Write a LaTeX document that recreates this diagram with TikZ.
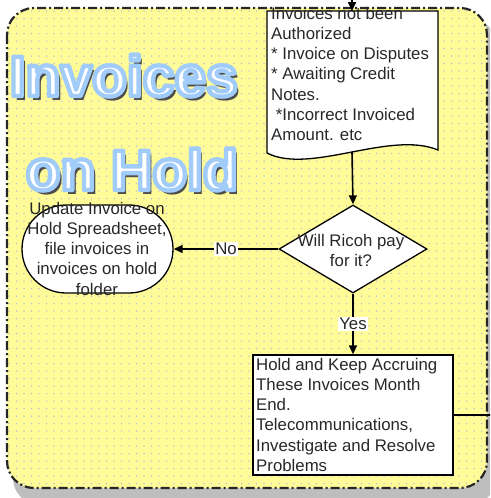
\documentclass[tikz,border=0pt]{standalone}
\usepackage{fontspec}
\setmainfont{Liberation Sans}
\usetikzlibrary{arrows.meta,shapes.geometric}
\definecolor{boxyellow}{RGB}{255,251,153}
\definecolor{dotcol}{RGB}{172,190,212}
\definecolor{shadowgray}{RGB}{190,190,190}
\definecolor{txtgray}{RGB}{40,40,40}
\newcommand\outlinedtext[1]{\special{pdf:literal direct 0.63 0.8 0.98 RG 4.4 w 1 j 2 Tr}#1\special{pdf:literal direct 0 Tr}}
\tikzset{
  shapeline/.style={draw=black, line width=1.3pt, fill=white},
  conn/.style={line width=1.6pt, -{Triangle[length=9pt,width=8pt]}},
  plainline/.style={line width=1.8pt},
  txt/.style={inner sep=0pt, text=txtgray, font=\fontsize{16.8}{20.3}\selectfont},
  lbl/.style={fill=white, inner sep=1pt, text=txtgray, font=\fontsize{16.8}{20.3}\selectfont},
  ttl/.style={inner sep=0pt, anchor=base east, text depth=0pt, font=\fontsize{57}{57}\selectfont\bfseries},
}
\begin{document}
\begin{tikzpicture}[x=1pt,y=-1pt]
\useasboundingbox (0,0) rectangle (490,498);
\begin{scope}
\clip (0,0) rectangle (490,498);
% shadow
\fill[shadowgray, rounded corners=27pt] (13,18) rectangle (496,505);
% yellow panel
\fill[boxyellow, rounded corners=27pt] (7,8) rectangle (487,488);
\begin{scope}
\clip[rounded corners=27pt] (7,8) rectangle (487,488);
\foreach \i in {0,...,64}{
  \foreach \j in {0,...,64}{
    \fill[dotcol] (9+7.5*\i,11+7.5*\j) circle (0.75pt);
  }
}
\end{scope}
\draw[black!85, line width=2.2pt, dash pattern=on 9pt off 3pt on 2pt off 3pt, rounded corners=27pt] (7,8) rectangle (487,488);

% title
\node[ttl, text=black!70] (t1s) at (241.5,100) {Invoices};
\node[ttl, text=black!70] (t2s) at (241.5,194) {on Hold};
\node[ttl, text=white] (t1) at (238,96) {\outlinedtext{Invoices}};
\node[ttl, text=white] (t2) at (238,190) {\outlinedtext{on Hold}};

% document shape
\draw[shapeline] (267,11) -- (438,11) -- (438,150) .. controls (390,130) and (310,175) .. (267,153) -- cycle;
\coordinate (doctop) at (352,11);
\coordinate (docbot) at (352,152);
\coordinate (inflow) at (352,-10);
\node[txt, anchor=north west, align=left] (doctxt) at (271,6.7) {Invoices not been\\Authorized\\* Invoice on Disputes\\* Awaiting Credit\\Notes.\\\ *Incorrect Invoiced\\Amount. etc};

% decision
\node[diamond, shapeline, minimum width=148pt, minimum height=88pt, inner sep=0pt] (dec) at (353,249) {};
\node[txt, anchor=north, align=center] (dectxt) at (351,233.7) {Will Ricoh pay\\for it?};

% terminal
\node[shapeline, rounded corners=44pt, minimum width=151pt, minimum height=88pt, inner sep=0pt] (upd) at (97.5,249) {};
\node[txt, anchor=north, align=center] (updtxt) at (97,201.7) {Update Invoice on\\Hold Spreadsheet,\\file invoices in\\invoices on hold\\folder};

% process
\node[shapeline, rectangle, minimum width=200pt, minimum height=120pt, inner sep=0pt] (hold) at (353,415) {};
\node[txt, anchor=north west, align=left] (holdtxt) at (256,357.7) {Hold and Keep Accruing\\These Invoices Month\\End.\\Telecommunications,\\Investigate and Resolve\\Problems};
\coordinate (outflow) at (500,415);

% connectors
\draw[conn] (inflow) -- (doctop);
\draw[conn] (docbot) -- (dec.north);
\draw[conn] (dec.west) -- node[lbl] (nolbl) {No} (upd.east);
\draw[conn] (dec.south) -- node[lbl] (yeslbl) {Yes} (hold.north);
\draw[plainline] (hold.east) -- (outflow);
\end{scope}
\end{tikzpicture}
\end{document}
